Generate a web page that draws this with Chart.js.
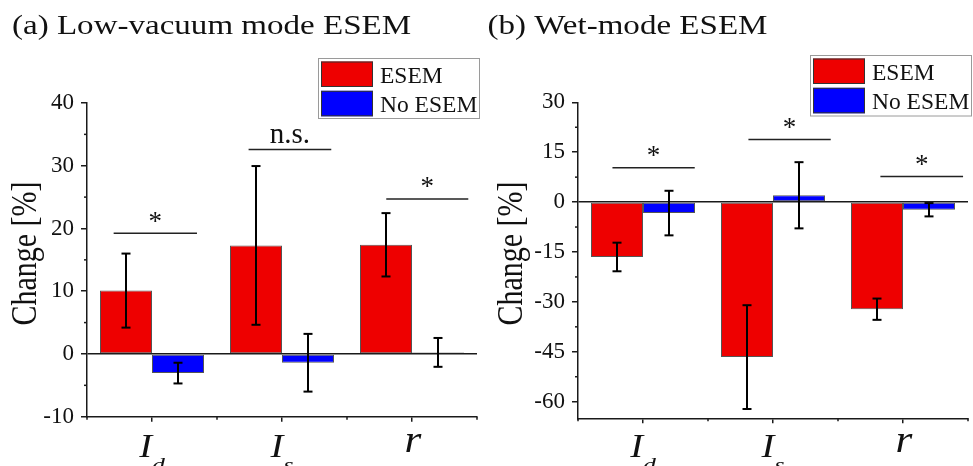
<!DOCTYPE html>
<html><head><meta charset="utf-8">
<script src="https://cdn.jsdelivr.net/npm/chart.js@4.4.1/dist/chart.umd.min.js"></script>
<style>
html,body{margin:0;padding:0;background:#fff;}
#wrap{position:relative;width:973px;height:466px;overflow:hidden;background:#fff;}
.pane{position:absolute;top:0;height:466px;}
canvas{display:block;}
</style></head><body>
<div id="wrap">
<div class="pane" style="left:0;width:486px"><canvas id="ca" width="486" height="466"></canvas></div>
<div class="pane" style="left:486px;width:487px"><canvas id="cb" width="487" height="466"></canvas></div>
</div>
<script>
// ---------- data ----------
const categories = ['I_d', 'I_s', 'r'];
const seriesNames = ['ESEM', 'No ESEM'];
const yTitle = 'Change [%]';

// (a) Low-vacuum mode ESEM
const titleA = '(a) Low-vacuum mode ESEM';
const esemA = [10.1, 17.3, 17.4];
const esemErrA = [5.9, 12.65, 5.05];
const noEsemA = [-3.05, -1.4, 0.25];
const noEsemErrA = [1.65, 4.6, 2.3];
const yTicksA = [-10, 0, 10, 20, 30, 40];
const sigLabelsA = ['*', 'n.s.', '*'];
const sigYA = [19.25, 32.6, 24.7];
const sigFromA = [-0.295, -0.257, -0.198];
const sigToA = [0.346, 0.379, 0.433];

// (b) Wet-mode ESEM
const titleB = '(b) Wet-mode ESEM';
const esemB = [-16.5, -46.6, -32.2];
const esemErrB = [4.3, 15.6, 3.2];
const noEsemB = [-3.3, 2.05, -2.3];
const noEsemErrB = [6.7, 9.95, 2.0];
const yTicksB = [-60, -45, -30, -15, 0, 15, 30];
const sigLabelsB = ['*', '*', '*'];
const sigYB = [10.3, 18.8, 7.7];
const sigFromB = [-0.235, -0.189, -0.174];
const sigToB = [0.398, 0.444, 0.462];

// ---------- style ----------
const FONT = '"Liberation Serif", "Times New Roman", serif';
const AXIS = '#1a1a1a';
const TXT = '#111';
const SX = 1.17;
const RED = '#ee0000';
const BLUE = '#0000ff';

function line(ctx, x1, y1, x2, y2) { ctx.beginPath(); ctx.moveTo(x1, y1); ctx.lineTo(x2, y2); ctx.stroke(); }
function txt(ctx, s, x, y, font, sx, align) {
  ctx.save();
  ctx.font = font; ctx.textBaseline = 'alphabetic'; ctx.textAlign = 'left';
  const w = ctx.measureText(s).width * sx;
  let x0 = x;
  if (align === 'center') x0 = x - w / 2;
  else if (align === 'right') x0 = x - w;
  ctx.translate(x0, y); ctx.scale(sx, 1);
  ctx.fillText(s, 0, 0);
  ctx.restore();
  return w;
}

const decor = {
  id: 'decor',
  afterDraw(chart, args, o) {
    const ctx = chart.ctx, xs = chart.scales.x, ys = chart.scales.y, ca = chart.chartArea;
    ctx.save();
    ctx.fillStyle = TXT;
    // minor ticks on y
    ctx.strokeStyle = AXIS; ctx.lineWidth = 1.5;
    const tv = ys.ticks.map(t => t.value);
    const step = tv[1] - tv[0];
    for (let v = tv[0] - step / 2; v < ys.max; v += step) {
      if (v <= ys.min) continue;
      const py = ys.getPixelForValue(v);
      line(ctx, ca.left - 3, py, ca.left, py);
    }
    // minor ticks on x at category boundaries
    for (let i = 0; i <= categories.length; i++) {
      const px = xs.getPixelForValue(i - 0.5);
      line(ctx, px, ca.bottom, px, ca.bottom + 3);
    }
    // error bars
    ctx.strokeStyle = '#000'; ctx.lineWidth = 2;
    chart.data.datasets.forEach((ds, di) => {
      const meta = chart.getDatasetMeta(di);
      meta.data.forEach((bar, i) => {
        const v = ds.data[i], e = ds.err[i];
        const cx = bar.x;
        const y1 = ys.getPixelForValue(v + e), y2 = ys.getPixelForValue(v - e);
        line(ctx, cx, y1, cx, y2);
        line(ctx, cx - 4.5, y1, cx + 4.5, y1);
        line(ctx, cx - 4.5, y2, cx + 4.5, y2);
      });
    });
    // significance brackets
    ctx.strokeStyle = '#222'; ctx.lineWidth = 1.5;
    o.sigLabels.forEach((lab, i) => {
      const x1 = xs.getPixelForValue(i + o.sigFrom[i]);
      const x2 = xs.getPixelForValue(i + o.sigTo[i]);
      const py = ys.getPixelForValue(o.sigY[i]);
      line(ctx, x1, py, x2, py);
      if (lab === '*') txt(ctx, lab, (x1 + x2) / 2, py - 3.5, '27px ' + FONT, 1, 'center');
      else txt(ctx, lab, (x1 + x2) / 2, py - 6.5, '29px ' + FONT, 1.0, 'center');
    });
    // x category labels (italic with subscripts)
    categories.forEach((c, i) => {
      const parts = c.split('_');
      const cx = xs.getPixelForValue(i);
      if (parts.length > 1) {
        ctx.font = 'italic 33px ' + FONT;
        const mw = ctx.measureText(parts[0]).width * SX;
        ctx.font = 'italic 22px ' + FONT;
        const sw = ctx.measureText(parts[1]).width * SX;
        const x0 = cx - (mw + sw) / 2;
        txt(ctx, parts[0], x0, o.xLabelY, 'italic 33px ' + FONT, SX, 'left');
        txt(ctx, parts[1], x0 + mw, o.xLabelY + 15, 'italic 22px ' + FONT, SX, 'left');
      } else {
        txt(ctx, parts[0], cx + 1, o.xLabelY - 5, 'italic 37px ' + FONT, SX, 'center');
      }
    });
    // panel title
    txt(ctx, o.title, o.titleX, o.titleY, '28px ' + FONT, 1.18, 'left');
    // y axis title
    ctx.save();
    ctx.translate(o.yTitleX, o.yTitleY);
    ctx.rotate(-Math.PI / 2);
    ctx.scale(1, SX);
    ctx.font = '30px ' + FONT; ctx.textAlign = 'center'; ctx.textBaseline = 'alphabetic';
    ctx.fillText(yTitle, 0, 0);
    ctx.restore();
    // legend
    const L = o.legend;
    ctx.fillStyle = '#fff'; ctx.fillRect(L.x, L.y, L.w, L.h);
    ctx.strokeStyle = '#9a9a9a'; ctx.lineWidth = 1;
    ctx.strokeRect(L.x + 0.5, L.y + 0.5, L.w - 1, L.h - 1);
    chart.data.datasets.forEach((ds, i) => {
      const ry = L.y + 3.5 + i * 29.3;
      ctx.fillStyle = ds.backgroundColor;
      ctx.fillRect(L.x + 3, ry, 52, 25.5);
      ctx.strokeStyle = '#333'; ctx.lineWidth = 1;
      ctx.strokeRect(L.x + 3.5, ry + 0.5, 51, 24.5);
      ctx.fillStyle = TXT;
      txt(ctx, ds.label, L.x + 62, ry + 21, '23.5px ' + FONT, 1, 'left');
    });
    ctx.restore();
  }
};

function makeChart(id, cfg) {
  const W = cfg.W, H = 466;
  return new Chart(document.getElementById(id), {
    type: 'bar',
    data: {
      labels: categories,
      datasets: [
        { label: seriesNames[0], data: cfg.esem, err: cfg.esemErr, backgroundColor: RED, borderColor: '#555', borderWidth: 1, borderSkipped: false, categoryPercentage: 0.8, barPercentage: 1.0 },
        { label: seriesNames[1], data: cfg.noEsem, err: cfg.noEsemErr, backgroundColor: BLUE, borderColor: '#555', borderWidth: 1, borderSkipped: false, categoryPercentage: 0.8, barPercentage: 1.0 }
      ]
    },
    options: {
      responsive: false,
      animation: false,
      events: [],
      layout: { padding: { left: 0, top: cfg.top, right: W - cfg.right, bottom: H - cfg.bottom - 20 } },
      plugins: {
        legend: { display: false },
        tooltip: { enabled: false },
        title: { display: false },
        decor: {
          title: cfg.title, titleX: cfg.titleX, titleY: 33.5,
          yTitleX: 36, yTitleY: 253.5,
          xLabelY: 456.7,
          sigLabels: cfg.sigLabels, sigY: cfg.sigY, sigFrom: cfg.sigFrom, sigTo: cfg.sigTo,
          legend: cfg.legend
        }
      },
      scales: {
        x: {
          offset: true,
          grid: { display: true, offset: false, drawOnChartArea: false, drawTicks: true, tickLength: 5, color: AXIS, lineWidth: 1.5 },
          border: { display: true, color: AXIS, width: 1.5 },
          ticks: { display: false },
          afterFit: s => { s.height = 20; }
        },
        y: {
          min: cfg.min, max: cfg.max,
          afterBuildTicks: s => { s.ticks = cfg.yTicks.map(v => ({ value: v })); },
          afterFit: s => { s.width = cfg.left; },
          grid: {
            drawOnChartArea: true, drawTicks: true, tickLength: 6, lineWidth: 1.5,
            color: c => (c.tick && c.tick.value === 0) ? AXIS : 'rgba(0,0,0,0)',
            tickColor: AXIS
          },
          border: { display: true, color: AXIS, width: 1.5 },
          ticks: { color: TXT, padding: 7, font: { family: FONT, size: 23 } }
        }
      }
    },
    plugins: [decor]
  });
}

makeChart('ca', {
  W: 486, left: 87, right: 477, top: 103, bottom: 416.7,
  min: -10, max: 40, yTicks: yTicksA,
  esem: esemA, esemErr: esemErrA, noEsem: noEsemA, noEsemErr: noEsemErrA,
  sigLabels: sigLabelsA, sigY: sigYA, sigFrom: sigFromA, sigTo: sigToA,
  title: titleA, titleX: 12,
  legend: { x: 318, y: 58, w: 162, h: 61 }
});
makeChart('cb', {
  W: 487, left: 92, right: 482, top: 102.3, bottom: 418.3,
  min: -65, max: 30, yTicks: yTicksB,
  esem: esemB, esemErr: esemErrB, noEsem: noEsemB, noEsemErr: noEsemErrB,
  sigLabels: sigLabelsB, sigY: sigYB, sigFrom: sigFromB, sigTo: sigToB,
  title: titleB, titleX: 1.5,
  legend: { x: 324, y: 55, w: 162, h: 61.5 }
});
</script>
</body></html>
